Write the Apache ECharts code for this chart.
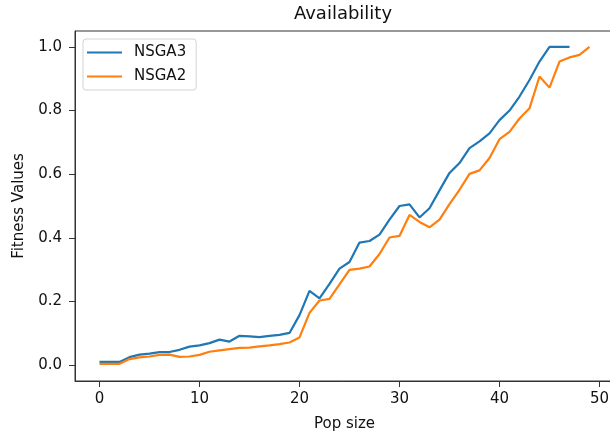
<!DOCTYPE html>
<html>
<head>
<meta charset="utf-8">
<script src="https://cdn.jsdelivr.net/npm/echarts@6/dist/echarts.min.js"></script>
<style>html,body{margin:0;padding:0;background:#fff;}#c{width:610px;height:434px;}</style>
</head>
<body>
<div id="c"></div>
<script>
const titleText = "Availability";
const xName = "Pop size";
const yName = "Fitness Values";
const xTicks = [0, 10, 20, 30, 40, 50];
const yTicks = [0, 0.2, 0.4, 0.6, 0.8, 1.0];
const nsga3 = [0.01,0.01,0.01,0.025,0.033,0.036,0.041,0.041,0.048,0.058,0.062,0.069,0.08,0.074,0.092,0.09,0.088,0.092,0.095,0.101,0.157,0.233,0.21,0.255,0.303,0.324,0.385,0.39,0.41,0.457,0.5,0.505,0.464,0.493,0.549,0.604,0.635,0.682,0.703,0.728,0.77,0.80,0.844,0.896,0.954,1.0,1.0,1.0];
const nsga2 = [0.004,0.004,0.004,0.019,0.024,0.027,0.032,0.033,0.026,0.027,0.032,0.042,0.046,0.05,0.054,0.055,0.059,0.062,0.066,0.071,0.087,0.164,0.203,0.208,0.254,0.299,0.303,0.31,0.349,0.401,0.406,0.472,0.45,0.433,0.457,0.506,0.551,0.601,0.612,0.651,0.71,0.733,0.775,0.807,0.907,0.872,0.954,0.967,0.975,1.0];

const font = "DejaVu Sans";
const chart = echarts.init(document.getElementById('c'), null, {renderer: 'canvas'});
const toPairs = arr => arr.map((v, i) => [i, v]);
chart.setOption({
  animation: false,
  backgroundColor: '#fff',
  title: {
    text: titleText, left: 343, top: 5, textAlign: 'center', padding: 0,
    textStyle: {fontFamily: font, fontSize: 18, fontWeight: 'normal', color: '#111'}
  },
  grid: {
    left: 75, right: -4, top: 31, bottom: 53,
    outerBoundsMode: 'none', containLabel: false,
    show: true, borderColor: '#333', borderWidth: 1, backgroundColor: 'transparent'
  },
  legend: {
    orient: 'vertical', left: 83, top: 39,
    padding: [6, 10, 6, 4], itemGap: 9,
    backgroundColor: 'rgba(255,255,255,0.8)',
    borderColor: '#d3d3d3', borderWidth: 1, borderRadius: 3,
    itemWidth: 35, itemHeight: 2, icon: 'rect',
    textStyle: {fontFamily: font, fontSize: 15, color: '#111', padding: [0, 0, 0, 7]},
    data: ['NSGA3', 'NSGA2']
  },
  xAxis: {
    type: 'value', min: -2.45, max: 51.45,
    name: xName, nameLocation: 'middle', nameGap: 36,
    nameTextStyle: {fontFamily: font, fontSize: 15, color: '#111'},
    axisLine: {show: true, onZero: false, lineStyle: {color: '#333', width: 1}},
    axisTick: {show: true, inside: false, length: 6, customValues: xTicks, lineStyle: {color: '#333'}},
    axisLabel: {customValues: xTicks, margin: 11, fontFamily: font, fontSize: 15, color: '#111', formatter: v => String(v)},
    splitLine: {show: false}
  },
  yAxis: {
    type: 'value', min: -0.05, max: 1.05,
    name: yName, nameLocation: 'middle', nameGap: 48, nameRotate: 90,
    nameTextStyle: {fontFamily: font, fontSize: 15, color: '#111'},
    axisLine: {show: true, onZero: false, lineStyle: {color: '#333', width: 1}},
    axisTick: {show: true, inside: false, length: 6, customValues: yTicks, lineStyle: {color: '#333'}},
    axisLabel: {customValues: yTicks, margin: 13, fontFamily: font, fontSize: 15, color: '#111', formatter: v => v.toFixed(1)},
    splitLine: {show: false}
  },
  series: [
    {name: 'NSGA3', type: 'line', data: toPairs(nsga3), symbol: 'none', showSymbol: false,
     lineStyle: {color: '#1f77b4', width: 2.2}, itemStyle: {color: '#1f77b4'}},
    {name: 'NSGA2', type: 'line', data: toPairs(nsga2), symbol: 'none', showSymbol: false,
     lineStyle: {color: '#ff7f0e', width: 2.2}, itemStyle: {color: '#ff7f0e'}}
  ]
});
</script>
</body>
</html>
